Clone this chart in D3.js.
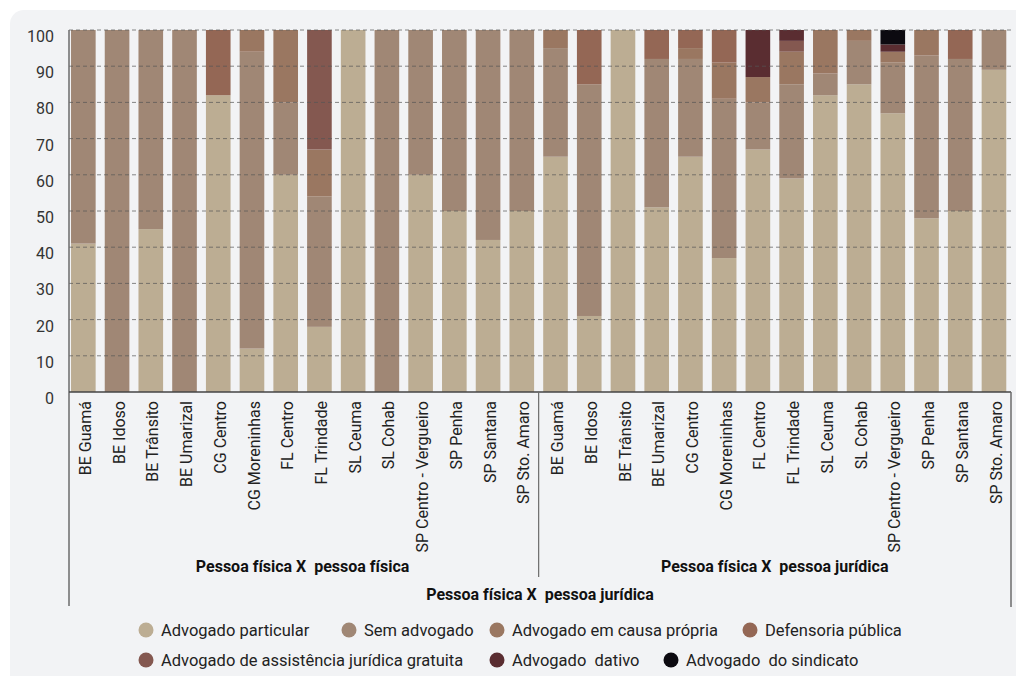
<!DOCTYPE html>
<html lang="pt">
<head>
<meta charset="utf-8">
<title>Tipo de representação por unidade</title>
<script src="https://d3js.org/d3.v7.min.js"></script>
<style>
  body { margin: 0; background: #ffffff; }
  svg text { font-family: Roboto, "Noto Sans", sans-serif; fill: #222; }
</style>
</head>
<body>
<div id="chart"></div>
<script>
// categories (same units in both groups)
var units = ["BE Guamá", "BE Idoso", "BE Trânsito", "BE Umarizal", "CG Centro", "CG Moreninhas",
  "FL Centro", "FL Trindade", "SL Ceuma", "SL Cohab", "SP Centro - Vergueiro", "SP Penha",
  "SP Santana", "SP Sto. Amaro"];
var groupLabels = ["Pessoa física X  pessoa física", "Pessoa física X  pessoa jurídica"];
var outerLabel = "Pessoa física X  pessoa jurídica";
var yTicks = [0, 10, 20, 30, 40, 50, 60, 70, 80, 90, 100];

var seriesNames = ["Advogado particular", "Sem advogado", "Advogado em causa própria",
  "Defensoria pública", "Advogado de assistência jurídica gratuita", "Advogado  dativo",
  "Advogado  do sindicato"];
var seriesColors = ["#bcad93", "#a08775", "#9a7761", "#946755", "#845850", "#5a2d31", "#0c0a10"];

// values (%), first 14 = pessoa física, last 14 = pessoa jurídica
var particular  = [41, 0, 45, 0, 82, 12, 60, 18, 100, 0, 60, 50, 42, 50,
                   65, 21, 100, 51, 65, 37, 67, 59, 82, 85, 77, 48, 50, 89];
var semAdvogado = [59, 100, 55, 100, 0, 82, 20, 36, 0, 100, 40, 50, 58, 50,
                   30, 64, 0, 41, 27, 44, 13, 26, 6, 12, 14, 45, 42, 11];
var causaPropria = [0, 0, 0, 0, 0, 6, 20, 13, 0, 0, 0, 0, 0, 0,
                    5, 0, 0, 0, 3, 10, 7, 9, 12, 3, 3, 7, 0, 0];
var defensoria  = [0, 0, 0, 0, 18, 0, 0, 0, 0, 0, 0, 0, 0, 0,
                   0, 15, 0, 8, 5, 9, 0, 0, 0, 0, 0, 0, 8, 0];
var assistencia = [0, 0, 0, 0, 0, 0, 0, 33, 0, 0, 0, 0, 0, 0,
                   0, 0, 0, 0, 0, 0, 0, 3, 0, 0, 0, 0, 0, 0];
var dativo      = [0, 0, 0, 0, 0, 0, 0, 0, 0, 0, 0, 0, 0, 0,
                   0, 0, 0, 0, 0, 0, 13, 3, 0, 0, 2, 0, 0, 0];
var sindicato   = [0, 0, 0, 0, 0, 0, 0, 0, 0, 0, 0, 0, 0, 0,
                   0, 0, 0, 0, 0, 0, 0, 0, 0, 0, 4, 0, 0, 0];

var seriesValues = [particular, semAdvogado, causaPropria, defensoria, assistencia, dativo, sindicato];

// build rows for d3.stack
var rows = [];
groupLabels.forEach(function(g, gi) {
  units.forEach(function(u, ui) {
    var idx = gi * units.length + ui;
    var row = { id: idx, unit: u, group: gi };
    seriesNames.forEach(function(s, si) { row[s] = seriesValues[si][idx]; });
    rows.push(row);
  });
});

var W = 1016, H = 676;
var plotLeft = 69, plotRight = 1011, plotTop = 30, plotBottom = 392;

var svg = d3.select("#chart").append("svg")
  .attr("width", W).attr("height", H);

// panel background
svg.append("rect")
  .attr("x", 10).attr("y", 10)
  .attr("width", W + 40).attr("height", H + 40)
  .attr("rx", 14)
  .attr("fill", "#f2f3f5");

var x = d3.scaleBand()
  .domain(rows.map(function(d) { return d.id; }))
  .range([plotLeft, plotRight])
  .paddingInner(0.27)
  .paddingOuter(0.1)
  .align(0.3);

var y = d3.scaleLinear().domain([0, 100]).range([plotBottom, plotTop]);

var stacked = d3.stack().keys(seriesNames)(rows);

// bars
svg.append("g").selectAll("g")
  .data(stacked)
  .join("g")
    .attr("fill", function(d, i) { return seriesColors[i]; })
  .selectAll("rect")
  .data(function(d) { return d; })
  .join("rect")
    .attr("x", function(d) { return x(d.data.id); })
    .attr("y", function(d) { return y(d[1]); })
    .attr("width", x.bandwidth())
    .attr("height", function(d) { return y(d[0]) - y(d[1]); });

// dashed grid lines on top of bars
svg.append("g").selectAll("line")
  .data(yTicks.filter(function(t) { return t > 0; }))
  .join("line")
    .attr("x1", plotLeft).attr("x2", plotRight)
    .attr("y1", function(d) { return y(d); })
    .attr("y2", function(d) { return y(d); })
    .attr("stroke", "#555")
    .attr("stroke-opacity", 0.7)
    .attr("stroke-dasharray", "4,3");

// y axis labels
svg.append("g").selectAll("text")
  .data(yTicks)
  .join("text")
    .attr("x", 54)
    .attr("y", function(d) { return y(d) + 12; })
    .attr("text-anchor", "end")
    .style("font-size", "16px")
    .style("fill", "#333")
    .text(function(d) { return d; });

// axis lines
var axisColor = "#6b6b6b";
svg.append("line")
  .attr("x1", plotLeft).attr("x2", plotLeft).attr("y1", plotTop).attr("y2", 606)
  .attr("stroke", axisColor).attr("stroke-width", 1.5);
svg.append("line")
  .attr("x1", plotLeft).attr("x2", plotRight).attr("y1", plotBottom).attr("y2", plotBottom)
  .attr("stroke", "#444").attr("stroke-width", 1.5);
svg.append("line")
  .attr("x1", plotRight).attr("x2", plotRight).attr("y1", plotBottom).attr("y2", 607)
  .attr("stroke", axisColor).attr("stroke-width", 1.5);
var mid = (x(units.length - 1) + x.bandwidth() + x(units.length)) / 2;
svg.append("line")
  .attr("x1", mid).attr("x2", mid).attr("y1", plotBottom).attr("y2", 577)
  .attr("stroke", axisColor).attr("stroke-width", 1.2);

// category labels (rotated)
svg.append("g").selectAll("text")
  .data(rows)
  .join("text")
    .attr("transform", function(d) {
      return "translate(" + (x(d.id) + x.bandwidth() / 2 + 2) + "," + (plotBottom + 9) + ") rotate(-90)";
    })
    .attr("dy", "0.35em")
    .attr("text-anchor", "end")
    .style("font-size", "16px")
    .text(function(d) { return d.unit; });

// group labels
svg.append("g").selectAll("text")
  .data(groupLabels)
  .join("text")
    .attr("x", function(d, i) {
      var first = x(i * units.length), last = x(i * units.length + units.length - 1) + x.bandwidth();
      return (first + last) / 2;
    })
    .attr("y", 572)
    .attr("text-anchor", "middle")
    .style("font-size", "16px")
    .style("font-weight", "700")
    .style("white-space", "pre")
    .style("fill", "#111")
    .text(function(d) { return d; });

svg.append("text")
  .attr("x", (plotLeft + plotRight) / 2)
  .attr("y", 600)
  .attr("text-anchor", "middle")
  .style("font-size", "16px")
  .style("font-weight", "700")
  .style("white-space", "pre")
  .style("fill", "#111")
  .text(outerLabel);

// legend
var legendPos = [[146, 630], [349, 630], [497, 630], [750, 630], [146, 660], [497, 660], [671, 660]];
var leg = svg.append("g").selectAll("g")
  .data(seriesNames)
  .join("g")
    .attr("transform", function(d, i) { return "translate(" + legendPos[i][0] + "," + legendPos[i][1] + ")"; });
leg.append("circle")
  .attr("r", 7.5)
  .attr("fill", function(d, i) { return seriesColors[i]; });
leg.append("text")
  .attr("x", 15)
  .attr("dy", "0.35em")
  .style("font-size", "16.5px")
  .style("white-space", "pre")
  .style("fill", "#222")
  .text(function(d) { return d; });
</script>
</body>
</html>
